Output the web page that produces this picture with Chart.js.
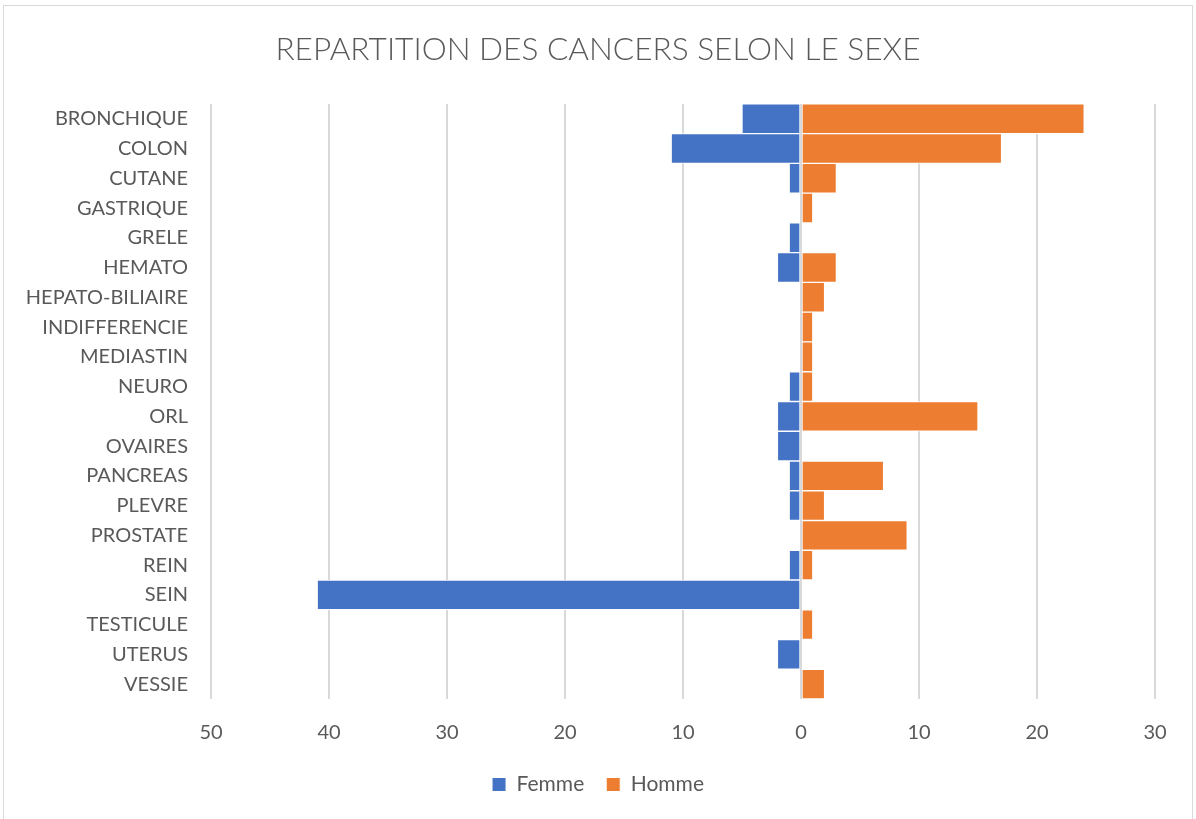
<!DOCTYPE html>
<html>
<head>
<meta charset="utf-8">
<script src="https://cdn.jsdelivr.net/npm/chart.js@4.4.1/dist/chart.umd.min.js"></script>
<style>
  html, body { margin: 0; padding: 0; background: #ffffff; overflow: hidden; }
  #wrap { position: relative; width: 1196px; height: 819px; }
  #frame { position: absolute; left: 3px; top: 5px; width: 1190px; height: 830px; border: 1.5px solid #d9d9d9; box-sizing: border-box; }
  #c { position: absolute; left: 0; top: 0; }
</style>
</head>
<body>
<div id="wrap">
  <div id="frame"></div>
  <canvas id="c" width="1196" height="819"></canvas>
</div>
<script>
const categories = ["BRONCHIQUE", "COLON", "CUTANE", "GASTRIQUE", "GRELE", "HEMATO", "HEPATO-BILIAIRE", "INDIFFERENCIE", "MEDIASTIN", "NEURO", "ORL", "OVAIRES", "PANCREAS", "PLEVRE", "PROSTATE", "REIN", "SEIN", "TESTICULE", "UTERUS", "VESSIE"];
const femme = [5, 11, 1, 0, 1, 2, 0, 0, 0, 1, 2, 2, 1, 1, 0, 1, 41, 0, 2, 0];
const homme = [24, 17, 3, 1, 0, 3, 2, 1, 1, 1, 15, 0, 7, 2, 9, 1, 0, 1, 0, 2];
const seriesNames = ["Femme", "Homme"];
const titleText = "REPARTITION DES CANCERS SELON LE SEXE";
const xMin = -50, xMax = 30, xStep = 10;

const textColor = "#595959";
const gridColor = "#d9d9d9";

const zeroLine = {
  id: "zeroLine",
  afterDatasetsDraw(chart) {
    const x = chart.scales.x.getPixelForValue(0);
    const a = chart.chartArea;
    const ctx = chart.ctx;
    ctx.save();
    ctx.strokeStyle = gridColor;
    ctx.lineWidth = 2;
    ctx.beginPath();
    ctx.moveTo(x, a.top);
    ctx.lineTo(x, a.bottom);
    ctx.stroke();
    ctx.restore();
  }
};

new Chart(document.getElementById("c"), {
  type: "bar",
  data: {
    labels: categories,
    datasets: [
      { label: seriesNames[0], data: femme.map(v => -v), backgroundColor: "#4472C4", borderColor: "#ffffff", borderWidth: 1, borderSkipped: false, barPercentage: 1, categoryPercentage: 1 },
      { label: seriesNames[1], data: homme, backgroundColor: "#ED7D31", borderColor: "#ffffff", borderWidth: 1, borderSkipped: false, barPercentage: 1, categoryPercentage: 1 }
    ]
  },
  options: {
    indexAxis: "y",
    responsive: false,
    animation: false,
    layout: { padding: { left: 0, right: 0, top: 0, bottom: 14 } },
    scales: {
      x: {
        stacked: true,
        min: xMin, max: xMax,
        border: { display: false },
        grid: { color: gridColor, lineWidth: 2, drawTicks: false },
        ticks: {
          stepSize: xStep, padding: 22, color: textColor,
          font: { family: "Lato", size: 20 },
          callback: v => Math.abs(v)
        },
        afterFit(s) { s.height = 53; }
      },
      y: {
        stacked: true,
        border: { display: false },
        grid: { display: false, drawTicks: false },
        ticks: { padding: 23, color: textColor, font: { family: "Lato", size: 20 }, autoSkip: false },
        afterFit(s) { s.width = 211; }
      },
      spacer: {
        type: "linear",
        position: "right",
        display: true,
        border: { display: false },
        grid: { display: false, drawTicks: false },
        ticks: { display: false },
        afterFit(s) { s.width = 41; }
      }
    },
    plugins: {
      title: {
        display: true, text: titleText, color: textColor,
        font: { family: "Lato", size: 31.6, weight: "300" },
        padding: { top: 31, bottom: 35 }
      },
      legend: {
        position: "bottom",
        labels: { color: textColor, boxWidth: 14, boxHeight: 14, padding: 22, font: { family: "Lato", size: 21 } }
      },
      tooltip: { enabled: false }
    }
  },
  plugins: [zeroLine]
});
</script>
</body>
</html>
